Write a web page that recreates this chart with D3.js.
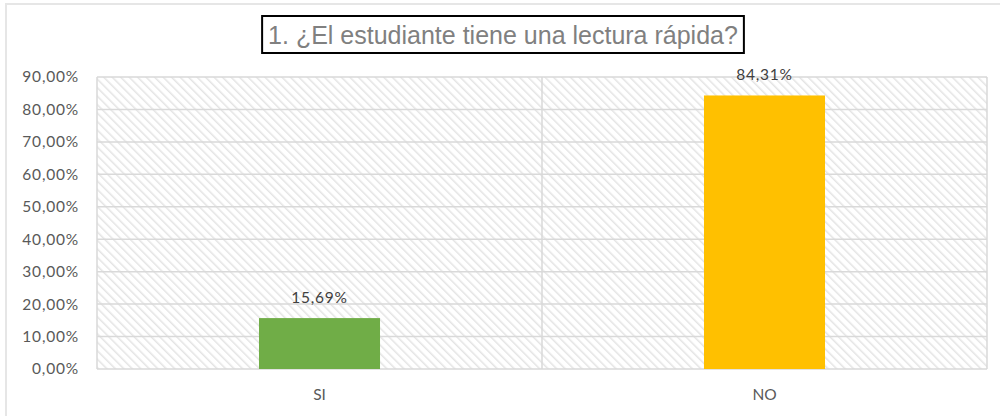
<!DOCTYPE html>
<html>
<head>
<meta charset="utf-8">
<script src="https://cdn.jsdelivr.net/npm/d3@7"></script>
<style>
  html, body { margin: 0; padding: 0; background: #fff; }
  svg { display: block; }
</style>
</head>
<body>
<div id="chart"></div>
<script>
const titleText = "1. ¿El estudiante tiene una lectura rápida?";
const categories = ["SI", "NO"];
const values = [0.1569, 0.8431];
const barColors = ["#70ad47", "#ffc000"];
const yTicks = [0, 0.1, 0.2, 0.3, 0.4, 0.5, 0.6, 0.7, 0.8, 0.9];

const width = 1000;
const height = 416;
const margin = { top: 77, right: 13, bottom: 47, left: 97 };

const fmt = v => (v * 100).toFixed(2).replace(".", ",") + "%";
const labelFont = "15.5px Lato, 'Open Sans', sans-serif";

const svg = d3.select("#chart").append("svg")
	.attr("width", width)
	.attr("height", height);

// hatch pattern for the plot background ("\" direction)
const defs = svg.append("defs");
const pat = defs.append("pattern")
	.attr("id", "hatch")
	.attr("patternUnits", "userSpaceOnUse")
	.attr("width", 6)
	.attr("height", 6)
	.attr("patternTransform", "rotate(-45)");
pat.append("rect").attr("width", 6).attr("height", 6).attr("fill", "#fff");
pat.append("line")
	.attr("x1", 0).attr("y1", 0).attr("x2", 0).attr("y2", 6)
	.attr("stroke", "#e4e4e4")
	.attr("stroke-width", 3);

// outer chart frame (only left and top visible in the reference)
svg.append("path")
	.attr("d", `M6,${height} V4 H${width}`)
	.attr("fill", "none")
	.attr("stroke", "#e6e6e6")
	.attr("stroke-width", 2);

const x = d3.scaleBand()
	.domain(categories)
	.range([margin.left, width - margin.right])
	.padding(0);

const y = d3.scaleLinear()
	.domain([0, 0.9])
	.range([height - margin.bottom, margin.top]);

const plotW = width - margin.left - margin.right;
const plotH = height - margin.top - margin.bottom;

svg.append("rect")
	.attr("x", margin.left)
	.attr("y", margin.top)
	.attr("width", plotW)
	.attr("height", plotH)
	.attr("fill", "url(#hatch)");

// horizontal gridlines
svg.append("g")
	.selectAll("line")
	.data(yTicks)
	.join("line")
	.attr("x1", margin.left)
	.attr("x2", width - margin.right)
	.attr("y1", d => y(d))
	.attr("y2", d => y(d))
	.attr("stroke", "#d9d9d9")
	.attr("stroke-width", 1.5);

// vertical category separators + plot border
const seps = [margin.left, ...categories.slice(1).map(c => x(c)), width - margin.right];
svg.append("g")
	.selectAll("line")
	.data(seps)
	.join("line")
	.attr("x1", d => d)
	.attr("x2", d => d)
	.attr("y1", margin.top)
	.attr("y2", height - margin.bottom)
	.attr("stroke", "#d9d9d9")
	.attr("stroke-width", 1.5);

// y axis labels
svg.append("g")
	.selectAll("text")
	.data(yTicks)
	.join("text")
	.attr("x", 79)
	.attr("y", d => y(d))
	.attr("dy", "0.35em")
	.attr("text-anchor", "end")
	.attr("fill", "#595959")
	.style("font", labelFont)
	.style("letter-spacing", "0.8px")
	.text(d => fmt(d));

// bars
const barFrac = 0.272;
const bw = x.bandwidth() * barFrac;
svg.append("g")
	.selectAll("rect")
	.data(categories)
	.join("rect")
	.attr("x", d => x(d) + (x.bandwidth() - bw) / 2)
	.attr("y", (d, i) => y(values[i]))
	.attr("width", bw)
	.attr("height", (d, i) => y(0) - y(values[i]))
	.attr("fill", (d, i) => barColors[i]);

// value labels
svg.append("g")
	.selectAll("text")
	.data(categories)
	.join("text")
	.attr("x", d => x(d) + x.bandwidth() / 2)
	.attr("y", (d, i) => y(values[i]) - 15)
	.attr("text-anchor", "middle")
	.attr("fill", "#404040")
	.style("font", labelFont)
	.style("letter-spacing", "0.8px")
	.text((d, i) => fmt(values[i]));

// category labels
svg.append("g")
	.selectAll("text")
	.data(categories)
	.join("text")
	.attr("x", d => x(d) + x.bandwidth() / 2)
	.attr("y", 400)
	.attr("text-anchor", "middle")
	.attr("fill", "#595959")
	.style("font", labelFont)
	.text(d => d);

// title with box
const tg = svg.append("g");
const box = tg.append("rect");
const title = tg.append("text")
	.attr("x", 503)
	.attr("y", 44)
	.attr("text-anchor", "middle")
	.attr("fill", "#808080")
	.style("font", "25px 'Liberation Sans', Arial, sans-serif")
	.text(titleText);
const tw = title.node().getComputedTextLength();
box
	.attr("x", 503 - tw / 2 - 6)
	.attr("y", 16)
	.attr("width", tw + 12)
	.attr("height", 37)
	.attr("fill", "#fff")
	.attr("stroke", "#000")
	.attr("stroke-width", 2);
</script>
</body>
</html>
